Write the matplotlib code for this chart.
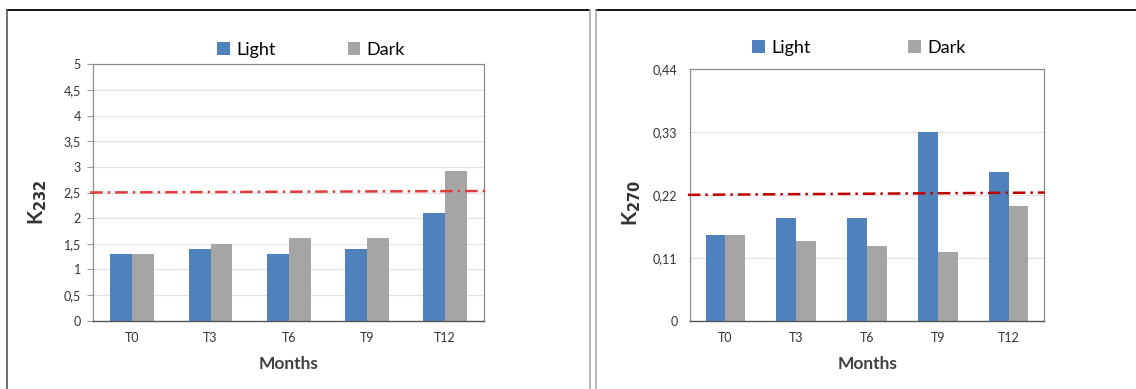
import numpy as np
import matplotlib
matplotlib.use("Agg")
import matplotlib.pyplot as plt
from matplotlib.lines import Line2D

plt.rcParams["font.family"] = ["Lato", "DejaVu Sans"]

# data
months = ["T0", "T3", "T6", "T9", "T12"]

k232_light = [1.3, 1.4, 1.3, 1.4, 2.1]
k232_dark  = [1.3, 1.5, 1.62, 1.62, 2.92]
k232_limit = [2.50, 2.53]          # red dash-dot reference line (slightly tilted)
k232_ticks = [0, 0.5, 1, 1.5, 2, 2.5, 3, 3.5, 4, 4.5, 5]
k232_ticklabels = ["0", "0,5", "1", "1,5", "2", "2,5", "3", "3,5", "4", "4,5", "5"]

k270_light = [0.15, 0.18, 0.18, 0.33, 0.26]
k270_dark  = [0.15, 0.14, 0.13, 0.12, 0.20]
k270_limit = [0.22, 0.224]
k270_ticks = [0, 0.11, 0.22, 0.33, 0.44]
k270_ticklabels = ["0", "0,11", "0,22", "0,33", "0,44"]

BLUE = "#4f81bd"
GRAY = "#a5a5a5"

W, H = 1136, 389
fig = plt.figure(figsize=(W / 100, H / 100), dpi=100)


def px_axes(x0, x1, ytop, ybot):
    return fig.add_axes([x0 / W, 1 - ybot / H, (x1 - x0) / W, (ybot - ytop) / H])


def draw_panel(ax, light, dark, limit, ticks, ticklabels, ymax, red, limit_x,
               tick_len, leg_anchor, colspace):
    x = np.arange(len(months))
    w = 0.28
    ax.bar(x - w / 2, light, w, color=BLUE, label="Light", zorder=2)
    ax.bar(x + w / 2, dark, w, color=GRAY, label="Dark", zorder=2)
    ax.plot(limit_x, limit, color=red, linewidth=1.8, dashes=(5, 2, 1, 2),
            zorder=3, clip_on=False)
    ax.set_xlim(-0.5, len(months) - 0.5)
    ax.set_ylim(0, ymax)
    ax.set_xticks(x)
    ax.set_xticklabels(months, fontsize=9, color="#333333")
    ax.set_yticks(ticks)
    ax.set_yticklabels(ticklabels, fontsize=9, color="#333333")
    ax.tick_params(axis="x", length=0, pad=8)
    ax.tick_params(axis="y", length=tick_len, width=0.8, color="#999999",
                   pad=9 - tick_len)
    ax.grid(True, axis="y", color="#e3e3e3", linewidth=0.9, zorder=0)
    ax.set_axisbelow(True)
    for s in ["left", "top", "right"]:
        ax.spines[s].set_color("#8c8c8c")
        ax.spines[s].set_linewidth(0.9)
    ax.spines["bottom"].set_color("#555555")
    ax.spines["bottom"].set_linewidth(1.0)
    ax.legend(loc="center", bbox_to_anchor=leg_anchor, ncol=2, frameon=False,
              fontsize=13, handlelength=0.7, handleheight=0.7,
              handletextpad=0.35, columnspacing=colspace)


ax1 = px_axes(93.3, 484, 64.3, 320.7)
draw_panel(ax1, k232_light, k232_dark, k232_limit, k232_ticks, k232_ticklabels,
           5, "#e03c3c", [-0.54, 4.53], 4, (0.557, 1.056), 4.0)

ax2 = px_axes(690, 1044, 69, 320.7)
draw_panel(ax2, k270_light, k270_dark, k270_limit, k270_ticks, k270_ticklabels,
           0.44, "#c00000", [-0.53, 4.51], 0, (0.477, 1.083), 5.4)

# axis titles
fig.text(38 / W, 1 - 202 / H, r"K$_{\mathbf{232}}$", rotation=90, ha="center",
         va="center", fontsize=15, fontweight="bold", color="#333333")
fig.text(632 / W, 1 - 203 / H, r"K$_{\mathbf{270}}$", rotation=90, ha="center",
         va="center", fontsize=15, fontweight="bold", color="#333333")
fig.text(289 / W, 1 - 364 / H, "Months", ha="center", va="center",
         fontsize=12.5, fontweight="bold", color="#404040")
fig.text(868 / W, 1 - 364 / H, "Months", ha="center", va="center",
         fontsize=12.5, fontweight="bold", color="#404040")

# frames of the two picture cells
def fig_line(xs, ys, color, lw):
    fig.add_artist(Line2D([v / W for v in xs], [1 - v / H for v in ys],
                          color=color, linewidth=lw))

fig_line([7, 589], [10, 10], "black", 1.3)
fig_line([596, 1136], [10, 10], "black", 1.3)
fig_line([7, 7], [10, 389], "#555555", 1.2)
fig_line([590, 590], [10, 389], "#aaaaaa", 1.2)
fig_line([596, 596], [10, 389], "#aaaaaa", 1.2)

fig.savefig("out.png", dpi=100)
